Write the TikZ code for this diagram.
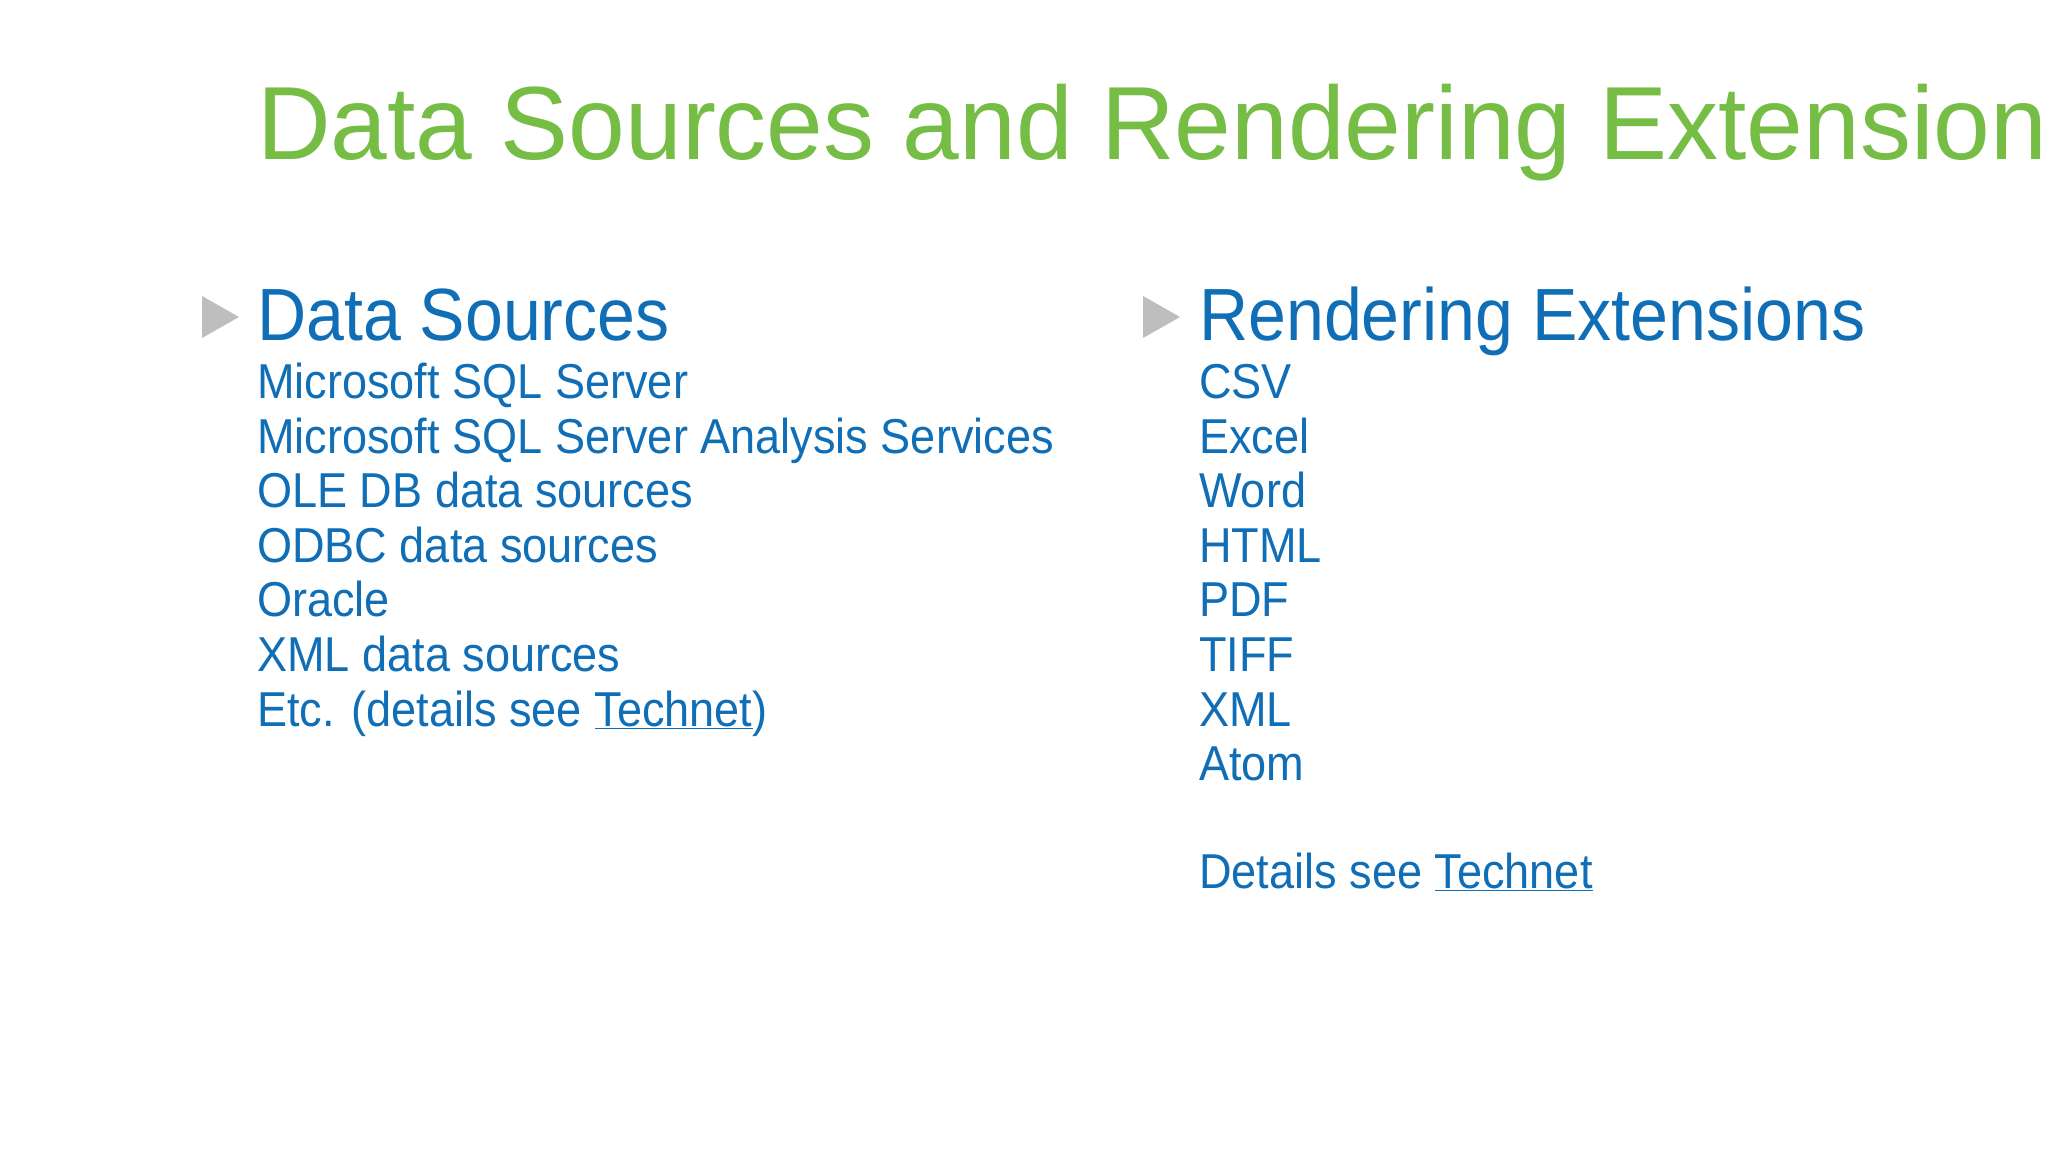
\documentclass[tikz,border=0pt]{standalone}
\usepackage{fontspec}
\setmainfont{Liberation Sans}
\newfontfamily\narrowfont[FakeStretch=0.92]{Liberation Sans}
\newfontfamily\titlefont[FakeStretch=0.98]{Liberation Sans}
\definecolor{tgreen}{RGB}{118,189,69}
\definecolor{tblue}{RGB}{16,110,182}
\definecolor{tgray}{RGB}{190,190,190}
\newcommand{\ulink}[1]{\underline{#1}}
\tikzset{
 title/.style={anchor=base west,inner sep=0,text=tgreen,font=\titlefont\fontsize{104}{110}\selectfont},
 head/.style={anchor=base west,inner sep=0,text=tblue,font=\narrowfont\fontsize{74}{80}\selectfont},
 item/.style={anchor=base west,inner sep=0,text=tblue,font=\narrowfont\fontsize{49}{54}\selectfont},
 bullet/.style={fill=tgray,draw=none}
}
\begin{document}
\begin{tikzpicture}[x=1pt,y=-1pt]
\useasboundingbox[fill=white] (0,0) rectangle (2048,1152);
\node[title] (t) at (257,159) {Data Sources and Rendering Extensions};
\fill[bullet] (202,296) -- (239,317) -- (202,338) -- cycle;
\fill[bullet] (1143,296) -- (1180,317) -- (1143,338) -- cycle;
\node[head] (h1) at (257,340) {Data Sources};
\node[head] (h2) at (1199,340) {Rendering Extensions};
\node[item] (a1) at (257,398) {Microsoft SQL Server};
\node[item] (a2) at (257,453) {Microsoft SQL Server Analysis Services};
\node[item] (a3) at (257,507) {OLE DB data sources};
\node[item] (a4) at (257,562) {ODBC data sources};
\node[item] (a5) at (257,616) {Oracle};
\node[item] (a6) at (257,671) {XML data sources};
\node[item] (a7) at (257,726) {Etc. (details see \ulink{Technet})};
\node[item] (b1) at (1199,398) {CSV};
\node[item] (b2) at (1199,453) {Excel};
\node[item] (b3) at (1199,507) {Word};
\node[item] (b4) at (1199,562) {HTML};
\node[item] (b5) at (1199,616) {PDF};
\node[item] (b6) at (1199,671) {TIFF};
\node[item] (b7) at (1199,726) {XML};
\node[item] (b8) at (1199,780) {Atom};
\node[item] (b9) at (1199,888) {Details see \ulink{Technet}};
\end{tikzpicture}
\end{document}
